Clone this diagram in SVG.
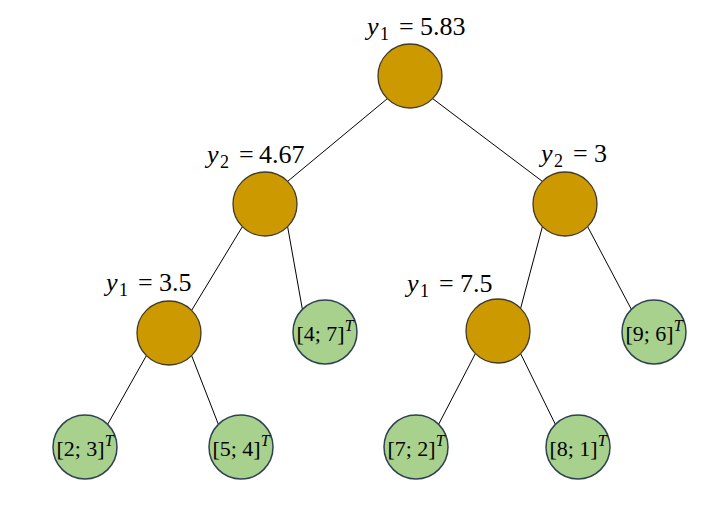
<svg xmlns="http://www.w3.org/2000/svg" width="725" height="520" viewBox="0 0 725 520">
<style>
.inner{fill:#CC9900;stroke:#3f3a2a;stroke-width:1.3}
.leaf{fill:#A9D18E;stroke:#2f4252;stroke-width:1.5}
.edge{stroke:#000;stroke-width:1;fill:none}
.lbl{font-family:"Liberation Serif",serif;font-size:26px;fill:#000}
.lt{font-family:"Liberation Serif",serif;font-size:22px;fill:#000;text-anchor:middle}
.it{font-style:italic}
.sub{font-size:18px}
</style>
<rect width="725" height="520" fill="#fff"/>
<g id="connectors">
<line class="edge" x1="387.4" y1="98.6" x2="287.6" y2="181.4"/>
<line class="edge" x1="432.6" y1="98.6" x2="542.4" y2="181.4"/>
<line class="edge" x1="242.4" y1="226.6" x2="191.6" y2="310.4"/>
<line class="edge" x1="287.6" y1="226.6" x2="302.4" y2="309.4"/>
<line class="edge" x1="542.4" y1="226.6" x2="520.6" y2="308.4"/>
<line class="edge" x1="587.6" y1="226.6" x2="631.4" y2="309.4"/>
<line class="edge" x1="146.4" y1="355.6" x2="107.6" y2="424.4"/>
<line class="edge" x1="191.6" y1="355.6" x2="218.4" y2="424.4"/>
<line class="edge" x1="475.4" y1="353.6" x2="438.6" y2="424.4"/>
<line class="edge" x1="520.6" y1="353.6" x2="555.4" y2="424.4"/>
</g>
<g id="n_root">
<circle class="inner" cx="410" cy="76" r="32"/>
<text class="lbl" y="35"><tspan class="it" x="367">y</tspan><tspan class="sub" x="380" dy="5">1</tspan><tspan x="399" dy="-5">=</tspan><tspan x="420">5.83</tspan></text>
</g>
<g id="n_a">
<circle class="inner" cx="265" cy="204" r="32"/>
<text class="lbl" y="163"><tspan class="it" x="207">y</tspan><tspan class="sub" x="220" dy="5">2</tspan><tspan x="239" dy="-5">=</tspan><tspan x="259">4.67</tspan></text>
</g>
<g id="n_b">
<circle class="inner" cx="565" cy="204" r="32"/>
<text class="lbl" y="162"><tspan class="it" x="541">y</tspan><tspan class="sub" x="554" dy="5">2</tspan><tspan x="573" dy="-5">=</tspan><tspan x="594">3</tspan></text>
</g>
<g id="n_c">
<circle class="inner" cx="169" cy="333" r="32"/>
<text class="lbl" y="291"><tspan class="it" x="106">y</tspan><tspan class="sub" x="119" dy="5">1</tspan><tspan x="138" dy="-5">=</tspan><tspan x="159">3.5</tspan></text>
</g>
<g id="n_d">
<circle class="leaf" cx="325" cy="332" r="32"/>
<text class="lt" x="325" y="341">[4; 7]<tspan class="it" font-size="16" dy="-10">T</tspan></text>
</g>
<g id="n_e">
<circle class="inner" cx="498" cy="331" r="32"/>
<text class="lbl" y="292"><tspan class="it" x="407">y</tspan><tspan class="sub" x="420" dy="5">1</tspan><tspan x="439" dy="-5">=</tspan><tspan x="460">7.5</tspan></text>
</g>
<g id="n_f">
<circle class="leaf" cx="654" cy="332" r="32"/>
<text class="lt" x="654" y="341">[9; 6]<tspan class="it" font-size="16" dy="-10">T</tspan></text>
</g>
<g id="n_g">
<circle class="leaf" cx="85" cy="447" r="32"/>
<text class="lt" x="85" y="456">[2; 3]<tspan class="it" font-size="16" dy="-10">T</tspan></text>
</g>
<g id="n_h">
<circle class="leaf" cx="241" cy="447" r="32"/>
<text class="lt" x="241" y="456">[5; 4]<tspan class="it" font-size="16" dy="-10">T</tspan></text>
</g>
<g id="n_i">
<circle class="leaf" cx="416" cy="447" r="32"/>
<text class="lt" x="416" y="456">[7; 2]<tspan class="it" font-size="16" dy="-10">T</tspan></text>
</g>
<g id="n_j">
<circle class="leaf" cx="578" cy="447" r="32"/>
<text class="lt" x="578" y="456">[8; 1]<tspan class="it" font-size="16" dy="-10">T</tspan></text>
</g>
</svg>
